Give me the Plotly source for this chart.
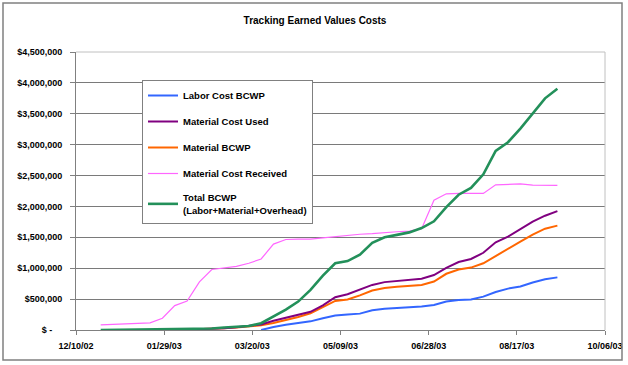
import plotly.graph_objects as go

# ---- data (values in thousands of dollars) ----
dates = ["2002-12-24", "2002-12-31", "2003-01-07", "2003-01-14", "2003-01-21", "2003-01-28",
         "2003-02-04", "2003-02-11", "2003-02-18", "2003-02-25", "2003-03-04", "2003-03-11",
         "2003-03-18", "2003-03-25", "2003-04-01", "2003-04-08", "2003-04-15", "2003-04-22",
         "2003-04-29", "2003-05-06", "2003-05-13", "2003-05-20", "2003-05-27", "2003-06-03",
         "2003-06-10", "2003-06-17", "2003-06-24", "2003-07-01", "2003-07-08", "2003-07-15",
         "2003-07-22", "2003-07-29", "2003-08-05", "2003-08-12", "2003-08-19", "2003-08-26",
         "2003-09-02", "2003-09-09"]

labor_bcwp = [None] * 13 + [0, 50, 85, 110, 140, 190, 235, 250, 265, 320, 345, 355, 365, 380,
                            405, 460, 485, 495, 540, 615, 670, 705, 770, 820, 852]
material_used = [None] * 6 + [0, 5, 10, 20, 30, 45, 65, 90, 150, 200, 245, 295, 400, 530, 580,
                              650, 730, 775, 790, 810, 830, 890, 1005, 1100, 1150, 1250, 1420,
                              1510, 1630, 1755, 1850, 1925]
material_bcwp = [None] * 6 + [0, 5, 10, 20, 30, 40, 55, 75, 115, 160, 210, 270, 370, 470, 495,
                              560, 640, 680, 700, 710, 730, 785, 910, 980, 1010, 1080, 1200,
                              1320, 1430, 1545, 1640, 1690]
material_received = [82, 90, 97, 105, 115, 190, 395, 470, 780, 980, 1005, 1030, 1080, 1150, 1390,
                     1465, 1470, 1470, 1490, 1510, 1535, 1550, 1560, 1580, 1590, 1600, 1640, 2100,
                     2205, 2210, 2205, 2210, 2350, 2360, 2365, 2345, 2340, 2340]
total_bcwp = [0, 2, 3, 4, 5, 6, 8, 10, 15, 25, 40, 55, 65, 110, 220, 330, 460, 650, 880, 1080,
              1115, 1220, 1410, 1500, 1540, 1580, 1650, 1760, 1990, 2190, 2300, 2520, 2900, 3040,
              3260, 3500, 3750, 3905]

x_tick_dates = ["2002-12-10", "2003-01-29", "2003-03-20", "2003-05-09", "2003-06-28",
                "2003-08-17", "2003-10-06"]
x_tick_labels = ["12/10/02", "01/29/03", "03/20/03", "05/09/03", "06/28/03", "08/17/03", "10/06/03"]
y_tick_values = [0, 500000, 1000000, 1500000, 2000000, 2500000, 3000000, 3500000, 4000000, 4500000]
y_tick_labels = ["$ -\u00a0\u00a0\u00a0\u00a0", "$500,000", "$1,000,000", "$1,500,000",
                 "$2,000,000", "$2,500,000", "$3,000,000", "$3,500,000", "$4,000,000",
                 "$4,500,000"]


def dollars(vals):
    return [None if v is None else v * 1000 for v in vals]


series = [
    # name, values, color, width, legend rank
    ("Material Cost Received", material_received, "#ff66ff", 1.2, 4),
    ("Labor Cost BCWP", labor_bcwp, "#3366ff", 2, 1),
    ("Material BCWP", material_bcwp, "#ff6600", 2, 3),
    ("Material Cost Used", material_used, "#800080", 2, 2),
    ("Total BCWP<br>(Labor+Material+Overhead)", total_bcwp, "#23905a", 2.6, 5),
]

FONT = "Arial, 'Liberation Sans', sans-serif"

fig = go.Figure()
for name, vals, color, width, rank in series:
    fig.add_trace(go.Scatter(
        x=dates, y=dollars(vals), mode="lines", name=name,
        line=dict(color=color, width=width), legendrank=rank, legendgroup=name,
        connectgaps=False,
    ))

# plot area in pixels: x 76..605, y 52..330
L, R, T, B = 76, 23, 52, 35
W, H = 628, 365
pw, ph = W - L - R, H - T - B


def px_x(p):
    return (p - L) / pw


def px_y(p):
    return (H - B - p) / ph


fig.update_layout(
    width=W, height=H,
    margin=dict(l=L, r=R, t=T, b=B, autoexpand=False),
    paper_bgcolor="white", plot_bgcolor="white",
    font=dict(family=FONT, size=9, color="black", weight="bold"),
    title=dict(text="Tracking Earned Values Costs", x=315 / W, xanchor="center",
               y=1 - 20 / H, yanchor="middle",
               font=dict(family=FONT, size=10, color="black", weight="bold")),
    showlegend=True,
    legend=dict(
        x=px_x(142), y=px_y(80), xanchor="left", yanchor="top",
        bgcolor="white", bordercolor="#808080", borderwidth=1,
        font=dict(family=FONT, size=9.5, color="black", weight="bold"),
        traceorder="grouped", tracegroupgap=7, itemwidth=30,
    ),
    xaxis=dict(
        type="date", range=["2002-12-10", "2003-10-06"],
        tickmode="array", tickvals=x_tick_dates, ticktext=x_tick_labels,
        showgrid=False, zeroline=False, automargin=False,
        showline=True, linecolor="#808080", linewidth=1,
        ticks="outside", ticklen=4, tickcolor="#808080", tickwidth=1,
        tickfont=dict(family=FONT, size=9, color="black", weight="bold"),
        ticklabelstandoff=3,
    ),
    yaxis=dict(
        range=[0, 4500000], automargin=False,
        tickmode="array", tickvals=y_tick_values, ticktext=y_tick_labels,
        showgrid=True, gridcolor="#7a7a7a", gridwidth=1.2, zeroline=False,
        showline=True, linecolor="#808080", linewidth=1,
        ticks="outside", ticklen=5, tickcolor="#808080", tickwidth=1,
        tickfont=dict(family=FONT, size=9, color="black", weight="bold"),
        ticklabelstandoff=6,
    ),
    shapes=[
        # outer chart border
        dict(type="rect", xref="paper", yref="paper",
             x0=px_x(3), x1=px_x(622), y0=px_y(360), y1=px_y(3),
             line=dict(color="#808080", width=1.5), fillcolor="rgba(0,0,0,0)", layer="above"),
        # plot-area border (top and right)
        dict(type="line", xref="paper", yref="paper", x0=0, x1=1, y0=1, y1=1,
             line=dict(color="#c0c0c0", width=1), layer="above"),
        dict(type="line", xref="paper", yref="paper", x0=1, x1=1, y0=0, y1=1,
             line=dict(color="#c0c0c0", width=1), layer="above"),
    ],
)

fig.write_html("out.html", config={"displayModeBar": False},
               post_script="document.body.style.margin='0';")
